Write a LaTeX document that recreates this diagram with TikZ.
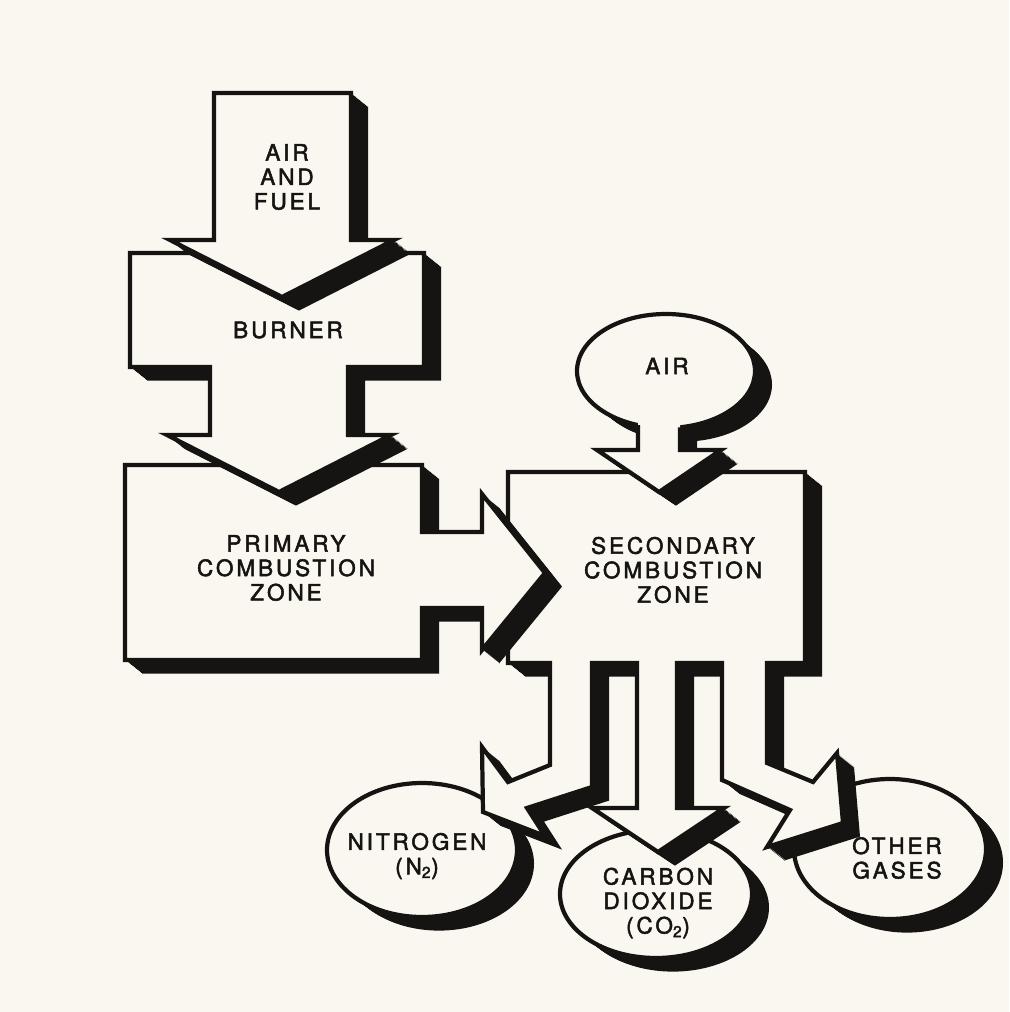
\documentclass[tikz,border=0pt]{standalone}
\usepackage{fontspec}
\newfontfamily\lblfont[LetterSpace=13,FakeBold=2.2]{TeX Gyre Heros}
\definecolor{paper}{RGB}{249,247,239}
\definecolor{ink}{RGB}{22,20,18}
% extruded shadow (sweep towards lower right)
\newcommand{\myextrude}[1]{%
  \foreach \k in {0,1,...,17}{\fill[ink,shift={(\k,0.8*\k)}] #1;}%
}
\newcommand{\mysolid}[1]{\myextrude{#1}\filldraw[face] #1;}
\tikzset{
  face/.style={fill=paper,draw=ink,line width=3pt,line join=miter},
  edge/.style={draw=ink,line width=3pt,line join=miter},
  lbl/.style={font=\lblfont\fontsize{16pt}{17.4pt}\selectfont,align=center,inner sep=0pt,text=ink}
}
\begin{document}
\begin{tikzpicture}[x=0.025cm,y=-0.025cm]
\useasboundingbox (0,0) rectangle (1009,1012);
\fill[paper] (0,0) rectangle (1009,1012);

% output circles
\mysolid{(422,850) ellipse [x radius=95, y radius=67]}
\mysolid{(656,894) ellipse [x radius=96, y radius=64]}
\mysolid{(890,849) ellipse [x radius=96, y radius=70]}

% secondary combustion zone with three outlet arrows
\mysolid{(508,472) -- (805,472) -- (805,663) -- (767,663) -- (767,763) -- (813,782) -- (837,753)
  -- (843,823) -- (767,847) -- (790,810) -- (722,780) -- (722,663) -- (677,663) -- (677,808)
  -- (724,808) -- (658,852) -- (592,808) -- (637,808) -- (637,663) -- (592,663) -- (592,787)
  -- (527,808) -- (545,836) -- (483,812) -- (482,747) -- (508,782) -- (550,765) -- (550,663)
  -- (508,663) -- cycle}

% secondary air bubble with arrow
\myextrude{(666,371) ellipse [x radius=89, y radius=57]}
\myextrude{(638,400) -- (638,450) -- (597,450) -- (659,492) -- (721,450) -- (680,450) -- (680,400) -- cycle}
\filldraw[face] (666,371) ellipse [x radius=89, y radius=57];
\fill[paper] (638,400) -- (638,450) -- (597,450) -- (659,492) -- (721,450) -- (680,450) -- (680,400) -- cycle;
\draw[edge] (638,425.1) -- (638,450) -- (597,450) -- (659,492) -- (721,450) -- (680,450) -- (680,427.3);

% primary combustion zone with arrow to the right
\mysolid{(125,465) -- (422,465) -- (422,532) -- (482,532) -- (482,494) -- (545,573) -- (482,650)
  -- (482,608) -- (422,608) -- (422,660) -- (125,660) -- cycle}

% burner with arrow down
\mysolid{(130,253) -- (424,253) -- (424,367) -- (348,367) -- (348,435) -- (391,435) -- (279,492)
  -- (167,435) -- (210,435) -- (210,367) -- (130,367) -- cycle}

% air and fuel arrow
\mysolid{(214,93) -- (351,93) -- (351,240) -- (394,240) -- (282,297) -- (170,240) -- (214,240) -- cycle}

% labels
\node[lbl] (airfuel) at (287,177) {AIR\\AND\\FUEL};
\node[lbl] (burner) at (288,330) {BURNER};
\node[lbl] (primary) at (286,568) {PRIMARY\\COMBUSTION\\ZONE};
\node[lbl] (air) at (667,366) {AIR};
\node[lbl] (secondary) at (673,570) {SECONDARY\\COMBUSTION\\ZONE};
\node[lbl] (nitrogen) at (417,856) {NITROGEN\\(N\textsubscript{2})};
\node[lbl] (carbon) at (658,903) {CARBON\\DIOXIDE\\(CO\textsubscript{2})};
\node[lbl] (other) at (897,858) {OTHER\\GASES};
\end{tikzpicture}
\end{document}
